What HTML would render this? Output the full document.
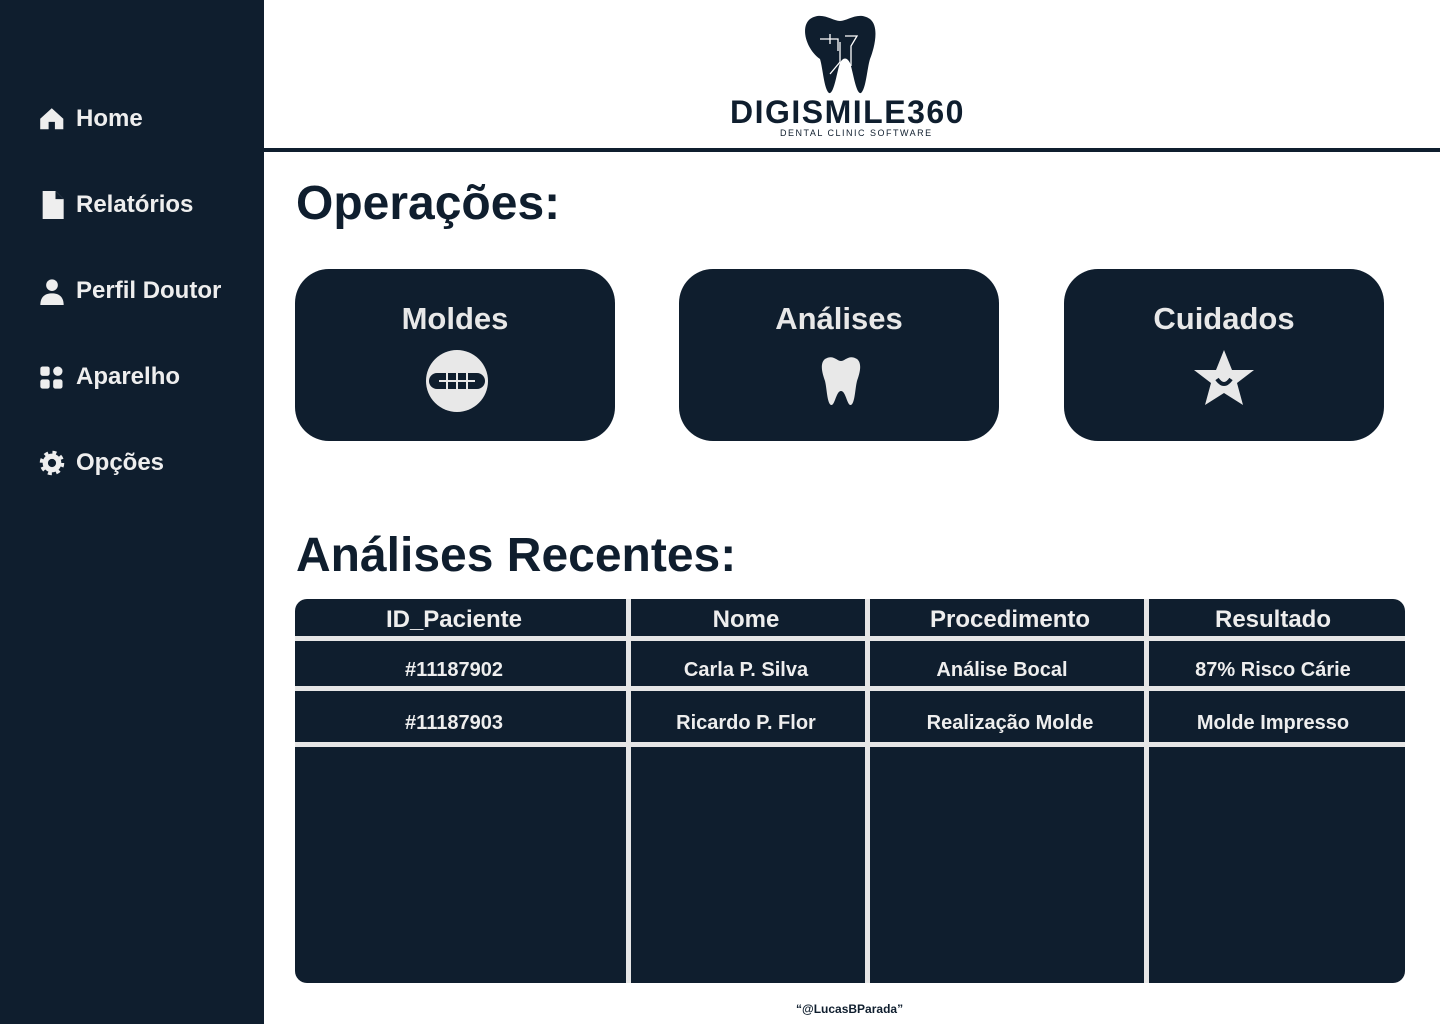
<!DOCTYPE html>
<html><head><meta charset="utf-8"><style>
*{margin:0;padding:0;box-sizing:border-box}
body{width:1440px;height:1024px;background:#fff;position:relative;overflow:hidden;font-family:"Liberation Sans",sans-serif;color:#0f1e2e}
.sb{position:absolute;left:0;top:0;width:264px;height:1024px;background:#0f1e2e}
.nav{position:absolute;left:38px;color:#eee;font-weight:bold;font-size:24px;display:flex;align-items:center;gap:10px}
.nav svg{width:28px;height:28px}
.hline{position:absolute;left:264px;top:148px;width:1176px;height:4px;background:#0f1e2e}
h1{position:absolute;font-size:48px;font-weight:bold}
.card{position:absolute;top:269px;width:320px;height:172px;background:#0f1e2e;border-radius:34px;color:#e8e8e8;text-align:center}
.card .t{font-size:31px;font-weight:bold;margin-top:32px}
.card svg{position:absolute;left:130px;top:80px;width:64px;height:64px}
.tbl{position:absolute;left:295px;top:599px;width:1110px;height:384px;background:#0f1e2e;border-radius:12px;overflow:hidden}
.v{position:absolute;top:0;width:5px;height:384px;background:#e6e6e6}
.h{position:absolute;left:0;width:1110px;height:5px;background:#e6e6e6}
.c{position:absolute;color:#eee;font-weight:bold;text-align:center}
</style></head><body>
<div class="sb">
<div class="nav" style="top:105px"><svg viewBox="0 0 24 24"><path d="M12 2L1 12v10h8v-7h6v7h8V12z" fill="#eee" transform="translate(1 1) scale(.9)"/></svg>Home</div>
<div class="nav" style="top:191px;left:38px"><svg viewBox="0 0 24 24"><path d="M4 0h11l7 7v17H4z" fill="#eee"/><path d="M15 0v7h7" fill="#0f1e2e"/></svg>Relatórios</div>
<div class="nav" style="top:277px"><svg viewBox="0 0 24 24"><circle cx="12" cy="7" r="5" fill="#eee"/><path d="M2 24c0-7 4-10 10-10s10 3 10 10z" fill="#eee"/></svg>Perfil Doutor</div>
<div class="nav" style="top:363px"><svg viewBox="0 0 24 24"><rect x="2" y="3" width="8" height="8" rx="2" fill="#eee"/><circle cx="17" cy="7" r="4" fill="#eee"/><rect x="2" y="14" width="8" height="8" rx="2" fill="#eee"/><rect x="13" y="14" width="8" height="8" rx="2" fill="#eee"/></svg>Aparelho</div>
<div class="nav" style="top:449px"><svg viewBox="0 0 24 24"><circle cx="12" cy="12" r="8" fill="#eee" stroke="#eee" stroke-width="5" stroke-dasharray="3 3.3"/><circle cx="12" cy="12" r="3.5" fill="#0f1e2e"/></svg>Opções</div>
</div>
<svg style="position:absolute;left:800px;top:14px" width="80" height="80" viewBox="0 0 80 80"><path d="M10 5c12-8 22 2 30 2s18-10 30-2c10 8 4 30 0 40-3 10-4 30-9 34-5 2-8-22-11-30-3-6-7-6-10 0-3 8-6 32-11 30-5-4-6-24-9-34C6 35 0 13 10 5z" fill="#0f1e2e"/><path d="M20 25h18v12M30 20v10M45 22h12l-6 10v20M40 28v20l-10 12" stroke="#fff" stroke-width="1.3" fill="none"/></svg>
<div style="position:absolute;left:730px;top:94px;font-size:32px;font-weight:bold;letter-spacing:1.5px;color:#0f1e2e">DIGISMILE360</div>
<div style="position:absolute;left:780px;top:128px;font-size:9px;letter-spacing:1.5px">DENTAL CLINIC SOFTWARE</div>
<div class="hline"></div>
<h1 style="left:296px;top:176px">Operações:</h1>
<div class="card" style="left:295px"><div class="t">Moldes</div><svg viewBox="0 0 64 64"><circle cx="32" cy="32" r="31" fill="#e8e8e8"/><rect x="4" y="24" width="56" height="16" rx="8" fill="#0f1e2e"/><path d="M14 32h36M22 20v24M32 20v24M42 20v24" stroke="#e8e8e8" stroke-width="2"/></svg></div>
<div class="card" style="left:679px"><div class="t">Análises</div><svg viewBox="0 0 64 64"><path d="M16 10c8-5 12 2 16 2s8-7 16-2c6 5 2 16 0 22-2 8-2 22-6 24-4 1-5-14-10-14s-6 15-10 14c-4-2-4-16-6-24-2-6-6-17 0-22z" fill="#e8e8e8"/></svg></div>
<div class="card" style="left:1064px"><div class="t">Cuidados</div><svg viewBox="0 0 64 64" style="left:128px"><path d="M32 1l8 20h22l-17 13 6 22-19-12-19 12 6-22L2 21h22z" fill="#e8e8e8"/><path d="M25 30q7 10 14 0" stroke="#0f1e2e" stroke-width="4" fill="none"/></svg></div>
<h1 style="left:296px;top:528px">Análises Recentes:</h1>
<div class="tbl">
<div class="v" style="left:331px"></div><div class="v" style="left:570px"></div><div class="v" style="left:849px"></div>
<div class="h" style="top:37px"></div><div class="h" style="top:87px"></div><div class="h" style="top:143px"></div>
<div class="c" style="left:0;width:318px;top:7px;font-size:24px">ID_Paciente</div>
<div class="c" style="left:336px;width:230px;top:7px;font-size:24px">Nome</div>
<div class="c" style="left:575px;width:280px;top:7px;font-size:24px">Procedimento</div>
<div class="c" style="left:854px;width:248px;top:7px;font-size:24px">Resultado</div>
<div class="c" style="left:0;width:318px;top:60px;font-size:20px">#11187902</div>
<div class="c" style="left:336px;width:230px;top:60px;font-size:20px">Carla P. Silva</div>
<div class="c" style="left:575px;width:264px;top:60px;font-size:20px">Análise Bocal</div>
<div class="c" style="left:854px;width:248px;top:60px;font-size:20px">87% Risco Cárie</div>
<div class="c" style="left:0;width:318px;top:113px;font-size:20px">#11187903</div>
<div class="c" style="left:336px;width:230px;top:113px;font-size:20px">Ricardo P. Flor</div>
<div class="c" style="left:575px;width:280px;top:113px;font-size:20px">Realização Molde</div>
<div class="c" style="left:854px;width:248px;top:113px;font-size:20px">Molde Impresso</div>
</div>
<div style="position:absolute;left:796px;top:1002px;font-size:12px;font-weight:bold">“@LucasBParada”</div>
</body></html>
